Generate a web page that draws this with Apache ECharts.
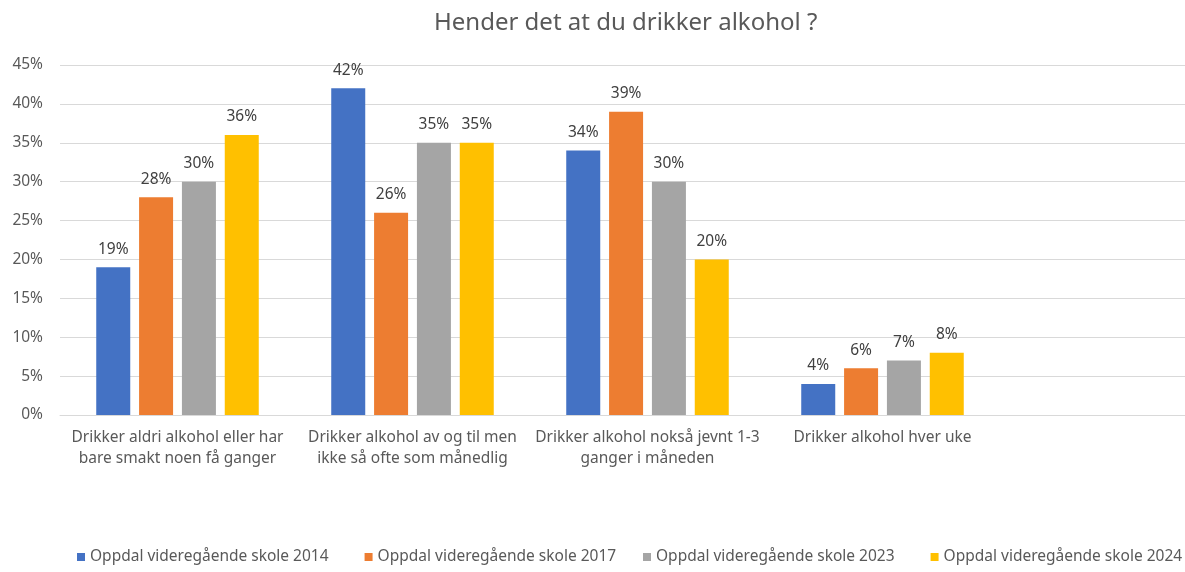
<!DOCTYPE html>
<html lang="nb">
<head>
    <meta charset="UTF-8">
    <script src="https://cdn.jsdelivr.net/npm/echarts@6/dist/echarts.min.js"></script>
    <title>Hender det at du drikker alkohol ?</title>
    <style>
        html, body { margin: 0; padding: 0; background: #fff; }
        #chart { width: 1185px; height: 572px; }
    </style>
</head>
<body>
<div id="chart"></div>
<script>
var categories = [
    'Drikker aldri alkohol eller har\nbare smakt noen få ganger',
    'Drikker alkohol av og til men\nikke så ofte som månedlig',
    'Drikker alkohol nokså jevnt 1-3\nganger i måneden',
    'Drikker alkohol hver uke'
];
var yTicks = [0, 5, 10, 15, 20, 25, 30, 35, 40, 45];

var seriesNames = [
    'Oppdal videregående skole 2014',
    'Oppdal videregående skole 2017',
    'Oppdal videregående skole 2023',
    'Oppdal videregående skole 2024'
];
var v2014 = [19, 42, 34, 4];
var v2017 = [28, 26, 39, 6];
var v2023 = [30, 35, 30, 7];
var v2024 = [36, 35, 20, 8];

var colors = ['#4472C4', '#ED7D31', '#A5A5A5', '#FFC000'];
var font = 'Noto Sans';
var fs = 15.5;

var chart = echarts.init(document.getElementById('chart'));

function bar(i, data) {
    return {
        name: seriesNames[i],
        type: 'bar',
        data: data,
        barWidth: 34,
        barGap: '26%',
        itemStyle: { color: colors[i] },
        label: {
            show: true,
            position: 'top',
            distance: 10,
            formatter: '{c}%',
            color: '#404040',
            fontSize: fs,
            fontFamily: font
        }
    };
}

// y-akse, brukes to ganger (den høyre delen av rutenettet er bare tom plass)
function yAxis(idx, showLabels) {
    return {
        type: 'value',
        gridIndex: idx,
        min: yTicks[0],
        max: yTicks[yTicks.length - 1],
        interval: 5,
        axisLine: { show: false },
        axisTick: { show: false },
        splitLine: { lineStyle: { color: '#D9D9D9' } },
        axisLabel: {
            show: showLabels,
            formatter: '{value}%',
            color: '#595959',
            fontSize: fs,
            fontFamily: font,
            margin: 17
        }
    };
}

// legenden deles i to, ellers brytes den til to linjer
function legend(names, left) {
    return {
        data: names,
        bottom: 7,
        left: left,
        padding: 0,
        itemWidth: 8,
        itemHeight: 8,
        itemGap: 36,
        icon: 'rect',
        textStyle: { color: '#595959', fontSize: fs, fontFamily: font }
    };
}

var option = {
    animation: false,
    title: {
        text: 'Hender det at du drikker alkohol ?',
        left: 429,
        top: 6,
        textStyle: { color: '#595959', fontSize: 24, fontWeight: 'normal', fontFamily: font }
    },
    legend: [
        legend(seriesNames.slice(0, 2), 77),
        legend(seriesNames.slice(2), 643)
    ],
    grid: [
        { left: 60, top: 65, width: 940, bottom: 157 },
        { left: 1000, top: 65, right: 0, bottom: 157 }
    ],
    xAxis: [{
        type: 'category',
        data: categories,
        axisLine: { lineStyle: { color: '#D9D9D9' } },
        axisTick: { show: false },
        axisLabel: {
            color: '#595959',
            fontSize: fs,
            fontFamily: font,
            lineHeight: 21,
            margin: 12,
            interval: 0
        }
    }, {
        type: 'category',
        gridIndex: 1,
        data: [''],
        axisLine: { lineStyle: { color: '#D9D9D9' } },
        axisTick: { show: false },
        axisLabel: { show: false }
    }],
    yAxis: [yAxis(0, true), yAxis(1, false)],
    series: [bar(0, v2014), bar(1, v2017), bar(2, v2023), bar(3, v2024)]
};

chart.setOption(option);
</script>
</body>
</html>
